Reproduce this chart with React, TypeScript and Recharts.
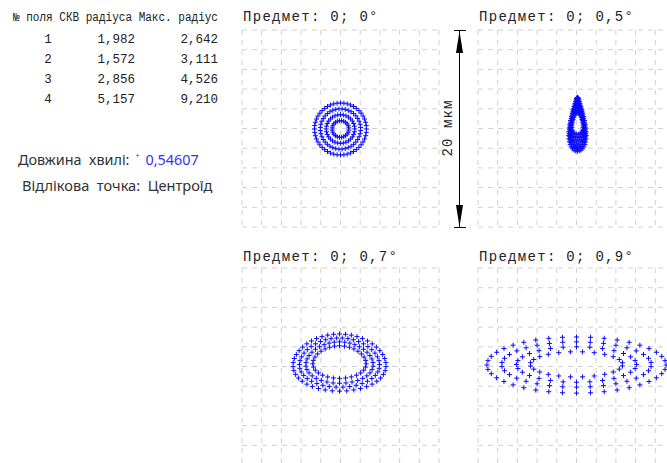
import { ScatterChart, Scatter, XAxis, YAxis, CartesianGrid } from "recharts";

// table of field results
const fieldNumbers = [1, 2, 3, 4];
const rmsRadius = [1.982, 1.572, 2.856, 5.157];
const maxRadius = [2.642, 3.111, 4.526, 9.21];

const fieldTitles = [
  "Предмет: 0; 0°",
  "Предмет: 0; 0,5°",
  "Предмет: 0; 0,7°",
  "Предмет: 0; 0,9°",
];
const wavelength = 0.54607;
const scaleLabel = "20 мкм";

// grid in µm, one cell = 2 µm
const gridTicks = [-10, -8, -6, -4, -2, 0, 2, 4, 6, 8, 10];

// spot rings (µm): centre, half widths, top taper, ray count
type Ring = { cx: number; cy: number; rx: number; ry: number; taper: number; count: number };

const field1Rings: Ring[] = [
  { cx: 0, cy: -0.05, rx: 2.64, ry: 2.64, taper: 0, count: 48 },
  { cx: 0, cy: -0.05, rx: 2.05, ry: 2.05, taper: 0, count: 40 },
  { cx: 0, cy: -0.05, rx: 1.45, ry: 1.45, taper: 0, count: 32 },
  { cx: 0, cy: -0.05, rx: 0.85, ry: 0.85, taper: 0, count: 24 },
];
const field2Rings: Ring[] = [
  { cx: 0.1, cy: 0.43, rx: 0.78, ry: 2.73, taper: 0.6, count: 44 },
  { cx: 0.1, cy: 0.44, rx: 0.74, ry: 2.45, taper: 0.55, count: 40 },
  { cx: 0.1, cy: 0.45, rx: 0.7, ry: 2.15, taper: 0.5, count: 36 },
  { cx: 0.1, cy: 0.47, rx: 0.65, ry: 1.8, taper: 0.45, count: 32 },
  { cx: 0.1, cy: 0.49, rx: 0.6, ry: 1.45, taper: 0.4, count: 28 },
  { cx: 0.1, cy: 0.5, rx: 0.55, ry: 1.1, taper: 0.3, count: 24 },
];
const field3Rings: Ring[] = [
  { cx: -0.1, cy: 0.4, rx: 4.7, ry: 2.9, taper: 0.1, count: 44 },
  { cx: -0.1, cy: 0.4, rx: 4.05, ry: 2.5, taper: 0.1, count: 40 },
  { cx: -0.1, cy: 0.4, rx: 3.4, ry: 2.1, taper: 0.1, count: 36 },
  { cx: -0.1, cy: 0.45, rx: 2.7, ry: 1.65, taper: 0.1, count: 30 },
];
const field4Rings: Ring[] = [
  { cx: 0, cy: 0.15, rx: 9.1, ry: 2.85, taper: 0, count: 40 },
  { cx: 0, cy: 0.2, rx: 7.6, ry: 2.3, taper: 0, count: 34 },
  { cx: 0, cy: 0.2, rx: 6.1, ry: 1.8, taper: 0, count: 28 },
  { cx: 0, cy: 0.22, rx: 4.7, ry: 1.28, taper: 0, count: 24 },
];

const fmt = (v: number, d: number) => v.toFixed(d).replace(".", ",");

function ringPoints(rings: Ring[]) {
  const pts: { x: number; y: number }[] = [];
  rings.forEach((r, k) => {
    const phase = k % 2 ? Math.PI / r.count : 0;
    for (let i = 0; i < r.count; i++) {
      const t = phase + (2 * Math.PI * i) / r.count;
      const s = Math.sin(t);
      pts.push({ x: r.cx + r.rx * Math.cos(t) * (1 - r.taper * s), y: r.cy + r.ry * s });
    }
  });
  return pts;
}

const Cross = (props: any) => {
  const { cx, cy } = props;
  if (cx == null || cy == null) return <g />;
  return (
    <path
      d={`M${cx - 2.5},${cy}h5M${cx},${cy - 2.5}v5`}
      stroke="#0a0aff"
      strokeWidth={1}
      fill="none"
    />
  );
};

function SpotPanel({ left, top, rings }: { left: number; top: number; rings: Ring[] }) {
  const data = ringPoints(rings);
  return (
    <div style={{ position: "absolute", left, top }}>
      <ScatterChart width={199} height={199} margin={{ top: 1, right: 1, bottom: 1, left: 1 }}>
        <CartesianGrid stroke="#d0d0d0" strokeDasharray="5 5" />
        <XAxis type="number" dataKey="x" domain={[-10, 10]} ticks={gridTicks} interval={0} hide />
        <YAxis type="number" dataKey="y" domain={[-10, 10]} ticks={gridTicks} interval={0} hide />
        <Scatter data={data} shape={Cross} isAnimationActive={false} />
      </ScatterChart>
    </div>
  );
}

const mono = "'Liberation Mono', 'Courier New', monospace";
const sans = "'Noto Sans', 'Open Sans', sans-serif";
const pre = { whiteSpace: "pre" as const };

export default function App() {
  const panelPos = [
    { left: 241, top: 29 },
    { left: 477, top: 29 },
    { left: 241, top: 267 },
    { left: 477, top: 267 },
  ];
  const panelRings = [field1Rings, field2Rings, field3Rings, field4Rings];
  const rowY = [43, 63, 83, 103];

  return (
    <div
      style={{
        position: "fixed",
        left: 0,
        top: 0,
        width: 667,
        height: 463,
        overflow: "hidden",
        background: "#fff",
      }}
    >
      {panelPos.map((p, i) => (
        <SpotPanel key={i} left={p.left} top={p.top} rings={panelRings[i]} />
      ))}

      <svg width={667} height={463} style={{ position: "absolute", left: 0, top: 0 }}>
        {/* results table */}
        <text
          x={13}
          y={21}
          fontFamily={mono}
          fontSize={12}
          fill="#222"
          textLength={205}
          lengthAdjust="spacingAndGlyphs"
        >
          № поля СКВ радіуса Макс. радіус
        </text>
        {fieldNumbers.map((n, i) => (
          <g key={n} fontFamily={mono} fontSize={12.5} fill="#222">
            <text x={48} y={rowY[i]} textAnchor="middle">
              {n}
            </text>
            <text x={135} y={rowY[i]} textAnchor="end">
              {fmt(rmsRadius[i], 3)}
            </text>
            <text x={218} y={rowY[i]} textAnchor="end">
              {fmt(maxRadius[i], 3)}
            </text>
          </g>
        ))}

        <text x={18} y={165} fontFamily={sans} fontSize={14.4} fill="#333" style={pre}>
          {"Довжина  хвилі:"}
        </text>
        <text x={135.5} y={158} fontFamily={sans} fontSize={7} fill="#2a2aff">
          +
        </text>
        <text x={145.5} y={165} fontFamily={sans} fontSize={14.4} fill="#3434f0">
          {fmt(wavelength, 5)}
        </text>
        <text x={22} y={191} fontFamily={sans} fontSize={14.6} fill="#333" style={pre}>
          {"Відлікова  точка:  Центроїд"}
        </text>

        {/* panel titles */}
        {fieldTitles.map((t, i) => (
          <text
            key={t}
            x={panelPos[i].left + 2}
            y={i < 2 ? 21 : 261}
            fontFamily={mono}
            fontSize={14}
            letterSpacing={1.3}
            fill="#222"
          >
            {t}
          </text>
        ))}

        {/* 20 µm scale bar */}
        <g stroke="#000" strokeWidth={1}>
          <line x1={459.5} y1={30} x2={459.5} y2={228} />
          <line x1={454} y1={30.5} x2={466} y2={30.5} />
          <line x1={454} y1={227.5} x2={466} y2={227.5} />
        </g>
        <path d="M459.5,31 L463,53 L456,53 Z" fill="#000" />
        <path d="M459.5,227 L463,205 L456,205 Z" fill="#000" />
        <text
          x={0}
          y={0}
          transform="translate(452,128) rotate(-90)"
          textAnchor="middle"
          fontFamily={mono}
          fontSize={14}
          letterSpacing={1.1}
          fill="#222"
        >
          {scaleLabel}
        </text>
      </svg>
    </div>
  );
}
